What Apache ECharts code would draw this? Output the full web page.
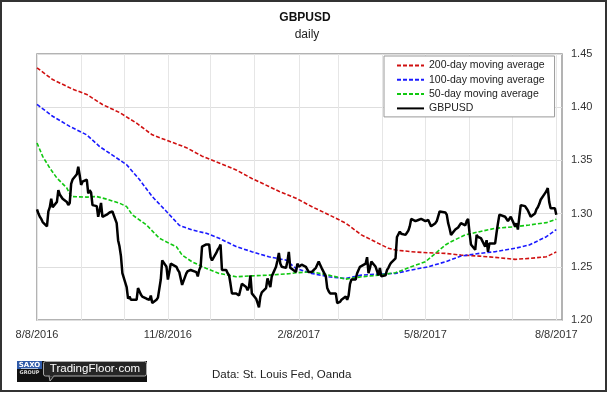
<!DOCTYPE html>
<html><head><meta charset="utf-8">
<script src="https://cdn.jsdelivr.net/npm/echarts@6/dist/echarts.min.js"></script>
<style>html,body{margin:0;padding:0;background:#fff}#c{width:608px;height:394px}</style>
</head><body><div id="c"></div>
<script>
// GBPUSD daily close [date, value]
const gbpusd = [
['2016-08-08',1.304],['2016-08-09',1.300],['2016-08-10',1.297],['2016-08-11',1.295],['2016-08-12',1.292],
['2016-08-15',1.288],['2016-08-16',1.302],['2016-08-17',1.306],['2016-08-18',1.314],['2016-08-19',1.306],
['2016-08-22',1.311],['2016-08-23',1.322],['2016-08-24',1.318],['2016-08-25',1.317],['2016-08-26',1.314],
['2016-08-29',1.311],['2016-08-30',1.308],['2016-08-31',1.310],['2016-09-01',1.328],['2016-09-02',1.332],
['2016-09-05',1.337],['2016-09-06',1.344],['2016-09-07',1.336],['2016-09-08',1.327],['2016-09-09',1.330],
['2016-09-12',1.332],['2016-09-13',1.319],['2016-09-14',1.322],['2016-09-15',1.320],['2016-09-16',1.308],
['2016-09-19',1.307],['2016-09-20',1.297],['2016-09-21',1.303],['2016-09-22',1.310],['2016-09-23',1.297],
['2016-09-26',1.299],['2016-09-27',1.300],['2016-09-28',1.301],['2016-09-29',1.302],['2016-09-30',1.302],
['2016-10-03',1.291],['2016-10-04',1.275],['2016-10-05',1.269],['2016-10-06',1.260],['2016-10-07',1.244],
['2016-10-10',1.231],['2016-10-11',1.220],['2016-10-12',1.222],['2016-10-13',1.219],['2016-10-14',1.219],
['2016-10-17',1.219],['2016-10-18',1.230],['2016-10-19',1.227],['2016-10-20',1.224],['2016-10-21',1.222],
['2016-10-24',1.220],['2016-10-25',1.219],['2016-10-26',1.219],['2016-10-27',1.223],['2016-10-28',1.216],
['2016-10-31',1.219],['2016-11-01',1.221],['2016-11-02',1.222],['2016-11-03',1.238],['2016-11-04',1.256],
['2016-11-07',1.250],['2016-11-08',1.238],['2016-11-09',1.245],['2016-11-10',1.253],['2016-11-11',1.252],
['2016-11-14',1.250],['2016-11-15',1.247],['2016-11-16',1.245],['2016-11-17',1.244],['2016-11-18',1.233],
['2016-11-21',1.244],['2016-11-22',1.246],['2016-11-23',1.247],['2016-11-24',1.247],['2016-11-25',1.247],
['2016-11-28',1.245],['2016-11-29',1.241],['2016-11-30',1.247],['2016-12-01',1.250],['2016-12-02',1.269],
['2016-12-05',1.271],['2016-12-06',1.271],['2016-12-07',1.271],['2016-12-08',1.259],['2016-12-09',1.256],
['2016-12-12',1.263],['2016-12-13',1.266],['2016-12-14',1.268],['2016-12-15',1.271],['2016-12-16',1.247],
['2016-12-19',1.247],['2016-12-20',1.244],['2016-12-21',1.242],['2016-12-22',1.234],['2016-12-23',1.225],
['2016-12-26',1.225],['2016-12-27',1.225],['2016-12-28',1.223],['2016-12-29',1.222],['2016-12-30',1.234],
['2017-01-02',1.231],['2017-01-03',1.228],['2017-01-04',1.231],['2017-01-05',1.242],['2017-01-06',1.225],
['2017-01-09',1.220],['2017-01-10',1.216],['2017-01-11',1.212],['2017-01-12',1.222],['2017-01-13',1.226],
['2017-01-16',1.230],['2017-01-17',1.239],['2017-01-18',1.235],['2017-01-19',1.231],['2017-01-20',1.241],
['2017-01-23',1.250],['2017-01-24',1.256],['2017-01-25',1.263],['2017-01-26',1.253],['2017-01-27',1.250],
['2017-01-30',1.249],['2017-01-31',1.255],['2017-02-01',1.264],['2017-02-02',1.249],['2017-02-03',1.250],
['2017-02-06',1.245],['2017-02-07',1.253],['2017-02-08',1.250],['2017-02-09',1.250],['2017-02-10',1.252],
['2017-02-13',1.250],['2017-02-14',1.249],['2017-02-15',1.245],['2017-02-16',1.244],['2017-02-17',1.245],
['2017-02-20',1.249],['2017-02-21',1.250],['2017-02-22',1.255],['2017-02-23',1.252],['2017-02-24',1.249],
['2017-02-27',1.241],['2017-02-28',1.230],['2017-03-01',1.227],['2017-03-02',1.225],['2017-03-03',1.225],
['2017-03-06',1.225],['2017-03-07',1.216],['2017-03-08',1.216],['2017-03-09',1.217],['2017-03-10',1.219],
['2017-03-13',1.222],['2017-03-14',1.219],['2017-03-15',1.223],['2017-03-16',1.234],['2017-03-17',1.238],
['2017-03-20',1.238],['2017-03-21',1.244],['2017-03-22',1.247],['2017-03-23',1.250],['2017-03-24',1.249],
['2017-03-27',1.253],['2017-03-28',1.259],['2017-03-29',1.244],['2017-03-30',1.249],['2017-03-31',1.255],
['2017-04-03',1.250],['2017-04-04',1.246],['2017-04-05',1.242],['2017-04-06',1.249],['2017-04-07',1.241],
['2017-04-10',1.242],['2017-04-11',1.247],['2017-04-12',1.249],['2017-04-13',1.252],['2017-04-14',1.254],
['2017-04-17',1.258],['2017-04-18',1.278],['2017-04-19',1.278],['2017-04-20',1.283],['2017-04-21',1.281],
['2017-04-24',1.280],['2017-04-25',1.282],['2017-04-26',1.284],['2017-04-27',1.288],['2017-04-28',1.295],
['2017-05-01',1.293],['2017-05-02',1.293],['2017-05-03',1.294],['2017-05-04',1.294],['2017-05-05',1.295],
['2017-05-08',1.293],['2017-05-09',1.294],['2017-05-10',1.294],['2017-05-11',1.291],['2017-05-12',1.288],
['2017-05-15',1.291],['2017-05-16',1.293],['2017-05-17',1.294],['2017-05-18',1.302],['2017-05-19',1.303],
['2017-05-22',1.301],['2017-05-23',1.299],['2017-05-24',1.291],['2017-05-25',1.286],['2017-05-26',1.280],
['2017-05-29',1.285],['2017-05-30',1.286],['2017-05-31',1.287],['2017-06-01',1.288],['2017-06-02',1.291],
['2017-06-05',1.289],['2017-06-06',1.293],['2017-06-07',1.295],['2017-06-08',1.282],['2017-06-09',1.271],
['2017-06-12',1.266],['2017-06-13',1.280],['2017-06-14',1.278],['2017-06-15',1.277],['2017-06-16',1.277],
['2017-06-19',1.269],['2017-06-20',1.275],['2017-06-21',1.264],['2017-06-22',1.272],['2017-06-23',1.272],
['2017-06-26',1.272],['2017-06-27',1.282],['2017-06-28',1.291],['2017-06-29',1.299],['2017-06-30',1.298],
['2017-07-03',1.297],['2017-07-04',1.296],['2017-07-05',1.293],['2017-07-06',1.294],['2017-07-07',1.297],
['2017-07-10',1.288],['2017-07-11',1.291],['2017-07-12',1.285],['2017-07-13',1.297],['2017-07-14',1.308],
['2017-07-17',1.307],['2017-07-18',1.305],['2017-07-19',1.303],['2017-07-20',1.300],['2017-07-21',1.297],
['2017-07-24',1.300],['2017-07-25',1.304],['2017-07-26',1.306],['2017-07-27',1.309],['2017-07-28',1.313],
['2017-07-31',1.319],['2017-08-01',1.321],['2017-08-02',1.324],['2017-08-03',1.311],['2017-08-04',1.305],
['2017-08-07',1.305],['2017-08-08',1.299]
];
// 200-day moving average
const ma200 = [
['2016-08-08',1.437],['2016-08-19',1.426],['2016-09-02',1.417],['2016-09-12',1.412],['2016-09-23',1.4025],
['2016-10-05',1.395],['2016-10-17',1.385],['2016-10-28',1.374],['2016-11-09',1.368],['2016-11-21',1.362],
['2016-12-02',1.354],['2016-12-14',1.3475],['2016-12-26',1.341],['2017-01-06',1.333],['2017-01-18',1.3255],
['2017-01-25',1.321],['2017-02-06',1.3145],['2017-02-17',1.3066],['2017-03-01',1.299],['2017-03-13',1.291],
['2017-03-24',1.280],['2017-04-05',1.272],['2017-04-12',1.2674],['2017-04-17',1.2658],['2017-04-28',1.2642],
['2017-05-10',1.2632],['2017-05-22',1.2626],['2017-06-02',1.261],['2017-06-15',1.260],['2017-06-26',1.2589],
['2017-07-10',1.257],['2017-07-20',1.2579],['2017-08-01',1.2594],['2017-08-08',1.264]
];
// 100-day moving average
const ma100 = [
['2016-08-08',1.4026],['2016-08-19',1.3915],['2016-08-31',1.382],['2016-09-12',1.374],['2016-09-21',1.363],
['2016-09-30',1.355],['2016-10-10',1.346],['2016-10-19',1.332],['2016-10-28',1.316],['2016-11-07',1.302],
['2016-11-16',1.289],['2016-11-25',1.2846],['2016-12-05',1.2815],['2016-12-14',1.2768],['2016-12-26',1.269],
['2017-01-06',1.2642],['2017-01-18',1.2594],['2017-01-30',1.2563],['2017-02-06',1.2485],['2017-02-17',1.2438],
['2017-03-01',1.2406],['2017-03-13',1.239],['2017-03-24',1.2422],['2017-04-05',1.2431],['2017-04-17',1.2438],
['2017-04-28',1.247],['2017-05-10',1.250],['2017-05-22',1.2547],['2017-06-02',1.2601],['2017-06-15',1.2626],
['2017-06-26',1.2642],['2017-07-10',1.2674],['2017-07-20',1.2705],['2017-08-01',1.2783],['2017-08-08',1.285]
];
// 50-day moving average
const ma50 = [
['2016-08-08',1.3664],['2016-08-12',1.3538],['2016-08-17',1.3428],['2016-08-22',1.3334],['2016-08-29',1.324],
['2016-09-01',1.316],['2016-09-12',1.3155],['2016-09-19',1.316],['2016-09-26',1.3136],['2016-10-05',1.3098],
['2016-10-10',1.3066],['2016-10-14',1.2988],['2016-10-24',1.2893],['2016-11-02',1.2768],['2016-11-09',1.272],
['2016-11-14',1.2689],['2016-11-18',1.261],['2016-11-25',1.2547],['2016-12-05',1.2485],['2016-12-14',1.2438],
['2016-12-26',1.2406],['2017-01-06',1.2415],['2017-01-18',1.2422],['2017-02-01',1.2435],['2017-02-06',1.2444],
['2017-02-17',1.2453],['2017-03-01',1.2422],['2017-03-13',1.2384],['2017-03-24',1.2406],['2017-04-05',1.2422],
['2017-04-17',1.2444],['2017-04-28',1.250],['2017-05-08',1.2547],['2017-05-15',1.2626],['2017-05-22',1.2705],
['2017-05-26',1.2736],['2017-06-05',1.280],['2017-06-15',1.283],['2017-06-26',1.2862],['2017-07-10',1.2877],
['2017-07-20',1.2893],['2017-08-01',1.2915],['2017-08-08',1.2947]
];
const monthGridDates = ['2016-08-08','2016-09-08','2016-10-08','2016-11-08','2016-12-08','2017-01-08','2017-02-08',
  '2017-03-08','2017-04-08','2017-05-08','2017-06-08','2017-07-08','2017-08-08'];
const xLabelDates = ['2016-08-08','2016-11-08','2017-02-08','2017-05-08','2017-08-08'];
const xMin = '2016-08-08', xMax = '2017-08-12';
const yMin = 1.20, yMax = 1.45, yStep = 0.05;
const seriesNames = ['200-day moving average','100-day moving average','50-day moving average','GBPUSD'];

function ts(s) { const p = s.split('-').map(Number); return Date.UTC(p[0], p[1] - 1, p[2]); }
function toXY(arr) { return arr.map(r => [ts(r[0]), r[1]]); }

const FONT = 'Liberation Sans';
const chart = echarts.init(document.getElementById('c'), null, {renderer: 'canvas'});
function dashed(name, data, color) {
  return {name, type: 'line', data: toXY(data), showSymbol: false, symbol: 'none', smooth: false,
    lineStyle: {color, width: 1.6, type: [4, 2]}, itemStyle: {color}, z: 2, silent: true};
}
chart.setOption({
  animation: false,
  backgroundColor: '#fff',
  title: [
    {text: 'GBPUSD', left: 300, textAlign: 'center', top: 7,
      textStyle: {fontFamily: FONT, fontSize: 12, fontWeight: 'bold', color: '#111'}},
    {text: 'daily', left: 302, textAlign: 'center', top: 24,
      textStyle: {fontFamily: FONT, fontSize: 12, fontWeight: 'normal', color: '#222'}}
  ],
  legend: {
    orient: 'vertical', left: 384, top: 56,
    padding: [4, 10, 3, 12], itemWidth: 27, itemHeight: 10, itemGap: 3.3,
    borderColor: '#999', borderWidth: 1, backgroundColor: '#fff',
    itemStyle: {opacity: 0},
    textStyle: {fontFamily: FONT, fontSize: 10.5, color: '#222'},
    data: seriesNames, selectedMode: false
  },
  grid: {left: 37, right: 46, top: 54, bottom: 74, show: true, borderColor: '#9a9a9a', borderWidth: 1.5, backgroundColor: 'transparent'},
  xAxis: {
    type: 'value', min: ts(xMin), max: ts(xMax),
    axisLine: {show: false},
    axisTick: {show: false, customValues: monthGridDates.map(ts)},
    splitLine: {show: true, lineStyle: {color: '#e6e6e6', width: 1}},
    axisLabel: {customValues: xLabelDates.map(ts), margin: 9, fontFamily: FONT, fontSize: 11, color: '#333',
      formatter: function (v) { const d = new Date(v); return (d.getUTCMonth() + 1) + '/' + d.getUTCDate() + '/' + d.getUTCFullYear(); },
      hideOverlap: false}
  },
  yAxis: {
    type: 'value', position: 'right', min: yMin, max: yMax, interval: yStep,
    axisLine: {show: false}, axisTick: {show: false},
    splitLine: {show: true, lineStyle: {color: '#dedede', width: 1}},
    axisLabel: {margin: 9, fontFamily: FONT, fontSize: 11, color: '#333', formatter: v => v.toFixed(2)}
  },
  series: [
    dashed(seriesNames[0], ma200, '#d01010'),
    dashed(seriesNames[1], ma100, '#1a1aff'),
    dashed(seriesNames[2], ma50, '#10c810'),
    {name: seriesNames[3], type: 'line', data: toXY(gbpusd), showSymbol: false, symbol: 'none',
      lineStyle: {color: '#000', width: 2.5}, itemStyle: {color: '#000'}, z: 3, silent: true}
  ],
  graphic: [
    {type: 'rect', shape: {x: 1, y: 1, width: 605, height: 390}, style: {fill: 'none', stroke: '#333', lineWidth: 2}, silent: true},
    {type: 'text', style: {text: 'Data: St. Louis Fed, Oanda', x: 212, y: 375, textVerticalAlign: 'middle', font: '11.5px "Liberation Sans"', fill: '#222'}},
    {type: 'rect', shape: {x: 17, y: 361, width: 130, height: 21}, style: {fill: '#111'}},
    {type: 'rect', shape: {x: 17, y: 361, width: 25, height: 8}, style: {fill: '#2f5aa8'}},
    {type: 'text', style: {text: 'SAXO', x: 29.5, y: 365, textAlign: 'center', textVerticalAlign: 'middle', font: 'bold 7px "DejaVu Sans"', fill: '#fff'}},
    {type: 'rect', shape: {x: 21, y: 368, width: 17, height: 0.6}, style: {fill: '#fff'}},
    {type: 'text', style: {text: 'GROUP', x: 29.5, y: 372.5, textAlign: 'center', textVerticalAlign: 'middle', font: 'bold 5px "DejaVu Sans"', fill: '#ddd'}},
    {type: 'rect', shape: {x: 43.5, y: 361.5, width: 103, height: 14.5, r: 2}, style: {fill: '#262626', stroke: '#aaa', lineWidth: 1}},
    {type: 'polygon', shape: {points: [[49, 376], [54, 376], [50, 381]]}, style: {fill: '#262626', stroke: '#aaa', lineWidth: 1}},
    {type: 'rect', shape: {x: 49.6, y: 375, width: 4, height: 1.5}, style: {fill: '#262626'}},
    {type: 'text', style: {text: 'TradingFloor·com', x: 95, y: 369, textAlign: 'center', textVerticalAlign: 'middle', font: '11.5px "Liberation Sans"', fill: '#fff'}}
  ]
});
</script></body></html>
